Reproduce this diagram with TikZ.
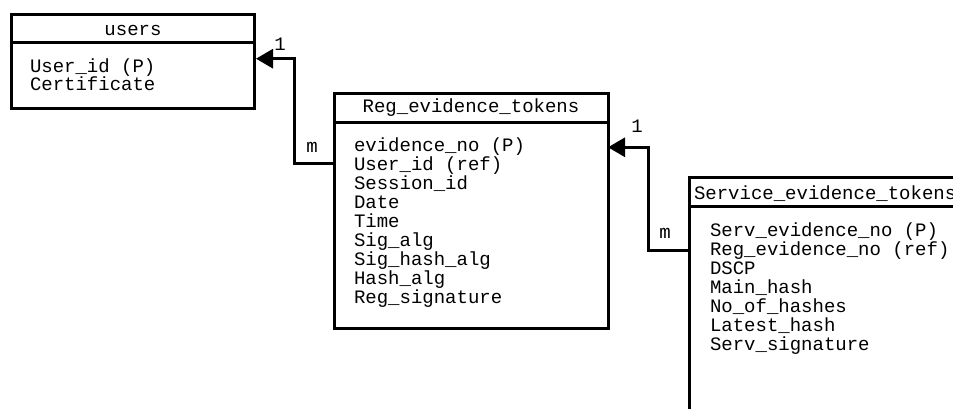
\documentclass[tikz,border=0pt]{standalone}
\usepackage{fontspec}
\setmonofont{Liberation Mono}
\usetikzlibrary{arrows.meta,calc}
\begin{document}
\begin{tikzpicture}[x=1pt,y=-1pt,
  box/.style={draw,line width=3pt,rectangle,inner sep=0pt,outer sep=0pt,anchor=north west},
  cell/.style={anchor=base west,inner sep=0pt,outer sep=0pt,font=\ttfamily\fontsize{19}{19}\selectfont},
  title/.style={cell,anchor=base},
  card/.style={cell,anchor=base},
  link/.style={line width=3pt,-{Triangle[length=17pt,width=19pt]}}]
\useasboundingbox (0,0) rectangle (953,409);
\fill[white] (0,0) rectangle (953,409);
\clip (0,0) rectangle (953,409);

% table: users
\node[box,minimum width=243.4pt,minimum height=28pt] (usersH) at (11.3,15) {};
\node[box,minimum width=243.4pt,minimum height=65.7pt] (usersB) at (usersH.south west) {};
\node[title] (usersT) at (133,36) {users};
\foreach \t [count=\i] in {User\_id (P),Certificate}
  \node[cell] (users-\i) at (30,{73+18*(\i-1)}) {\t};

% table: Reg_evidence_tokens
\node[box,minimum width=274pt,minimum height=29pt] (regH) at (334,94) {};
\node[box,minimum width=274pt,minimum height=205pt] (regB) at (regH.south west) {};
\node[title] (regT) at (471,113) {Reg\_evidence\_tokens};
\foreach \t [count=\i] in {evidence\_no (P),User\_id (ref),Session\_id,Date,Time,
    Sig\_alg,Sig\_hash\_alg,Hash\_alg,Reg\_signature}
  \node[cell] (reg-\i) at (354,{151+19*(\i-1)}) {\t};

% table: Service_evidence_tokens (runs past the page edge)
\node[box,minimum width=300pt,minimum height=29pt] (servH) at (689,177.3) {};
\node[box,minimum width=300pt,minimum height=250pt] (servB) at (servH.south west) {};
\node[cell] (servT) at (694,199) {Service\_evidence\_tokens};
\foreach \t [count=\i] in {Serv\_evidence\_no (P),Reg\_evidence\_no (ref),DSCP,Main\_hash,
    No\_of\_hashes,Latest\_hash,Serv\_signature}
  \node[cell] (serv-\i) at (710,{236+19*(\i-1)}) {\t};

% relationships
\coordinate (regFk) at ($(regB.north west)+(0,40)$);
\coordinate (usersPk) at ($(usersB.north east)+(1.3,15.7)$);
\draw[link] (regFk) -- ++(-39.3,0) |- (usersPk);

\coordinate (servFk) at ($(servB.north west)+(0,44)$);
\coordinate (regPk) at ($(regB.north east)+(0,24.3)$);
\draw[link] (servFk) -- ++(-41,0) |- (regPk);

% cardinalities
\node[card] (c1) at (280,51) {1};
\node[card] (cm) at (312,153) {m};
\node[card] (c2) at (637,133) {1};
\node[card] (cm2) at (665,238) {m};
\end{tikzpicture}
\end{document}
